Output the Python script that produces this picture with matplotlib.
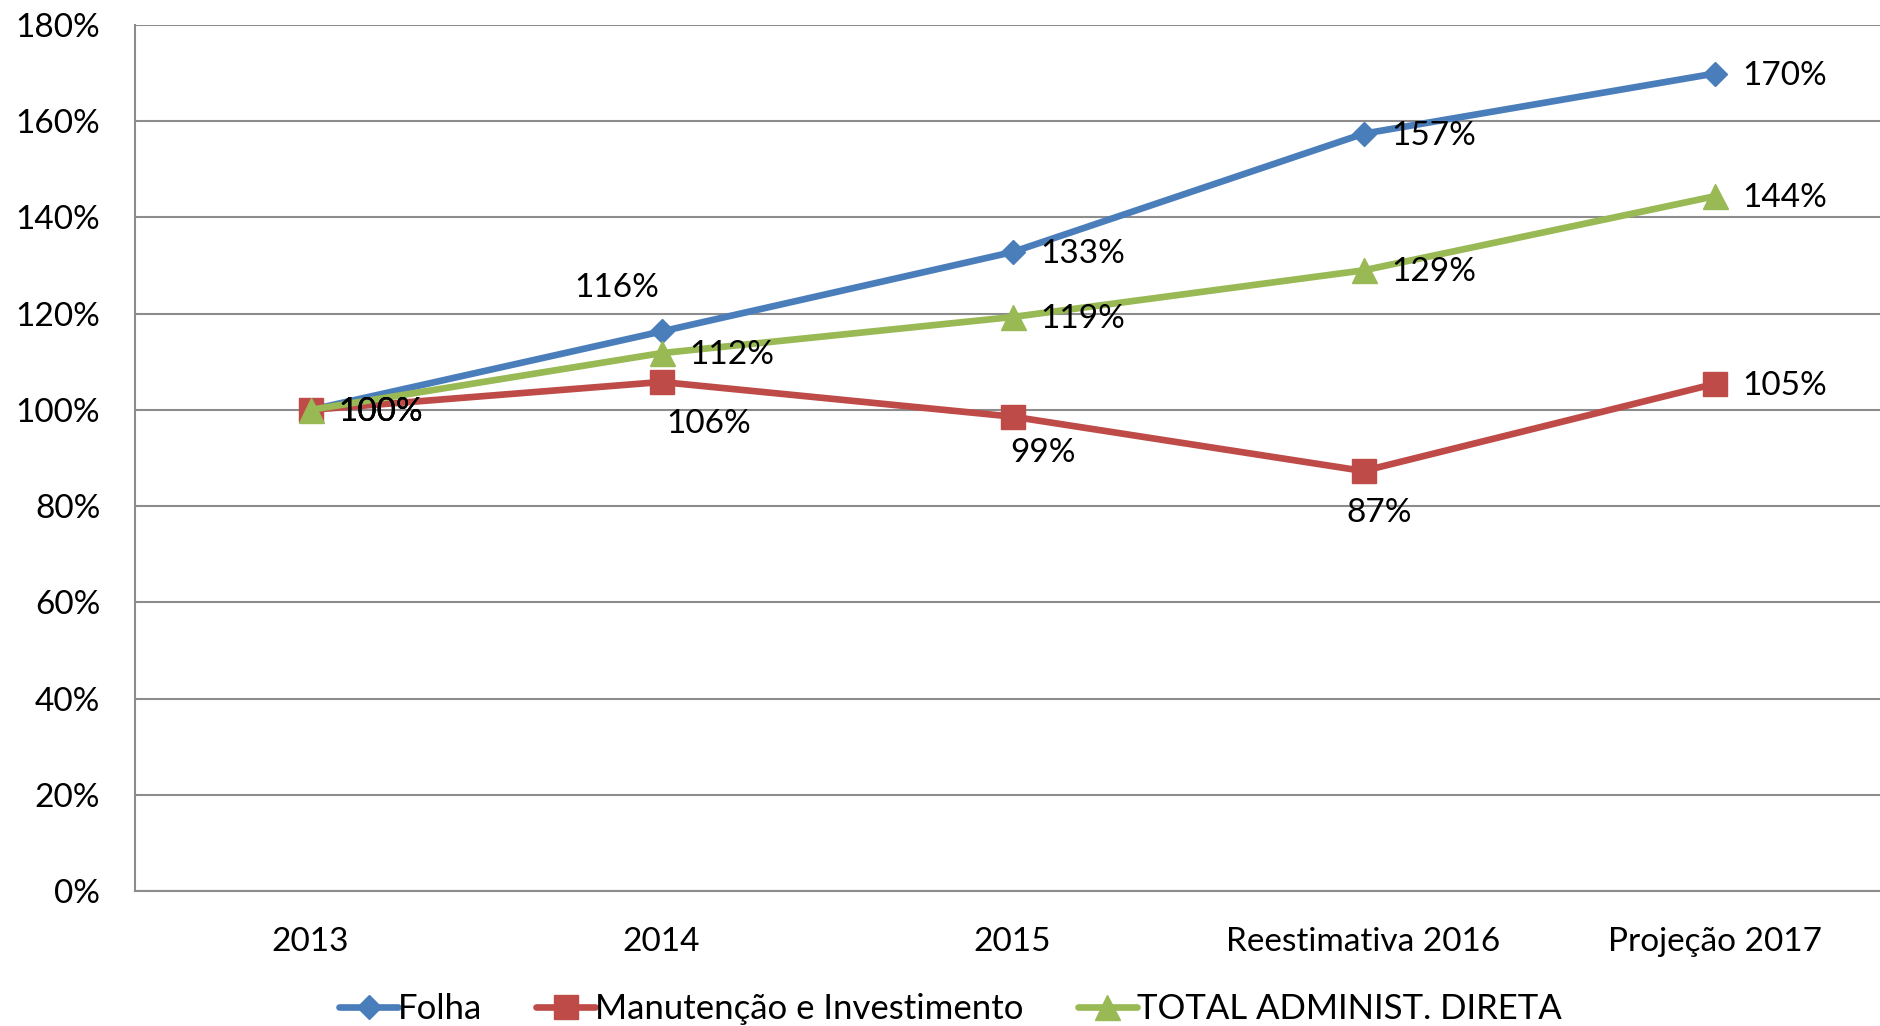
import matplotlib
matplotlib.use("Agg")
import matplotlib.pyplot as plt
from matplotlib.ticker import FuncFormatter

categories = ["2013", "2014", "2015", "Reestimativa 2016", "Projeção 2017"]
folha = [100, 116.3, 132.8, 157.4, 169.9]
manutencao = [100, 105.8, 98.6, 87.3, 105.4]
total = [100, 111.8, 119.3, 129.0, 144.4]
series_names = ["Folha", "Manutenção e Investimento", "TOTAL ADMINIST. DIRETA"]
folha_labels = ["100%", "116%", "133%", "157%", "170%"]
manut_labels = ["100%", "106%", "99%", "87%", "105%"]
total_labels = ["100%", "112%", "119%", "129%", "144%"]
yticks = [0, 20, 40, 60, 80, 100, 120, 140, 160, 180]

plt.rcParams['font.family'] = ['Lato', 'DejaVu Sans']
FS = 24

fig = plt.figure(figsize=(18.8, 10.26), dpi=100)
ax = fig.add_axes([135/1880, 1 - 891/1026, (1890 - 135)/1880, (891 - 25)/1026])

x = list(range(len(categories)))
blue, red, green = "#4A7EBB", "#BE4B48", "#98B954"

ax.plot(x, folha, color=blue, lw=4.8, marker="D", ms=12.5, mec=blue, mfc=blue,
        label=series_names[0], zorder=3, solid_capstyle="round")
ax.plot(x, manutencao, color=red, lw=4.8, marker="s", ms=17, mec=red, mfc=red,
        label=series_names[1], zorder=3, solid_capstyle="round")
ax.plot(x, total, color=green, lw=4.8, marker="^", ms=18, mec=green, mfc=green,
        label=series_names[2], zorder=4, solid_capstyle="round")

ax.set_xlim(-0.5, 4.5)
ax.set_ylim(0, 180)
ax.set_yticks(yticks)
ax.yaxis.set_major_formatter(FuncFormatter(lambda v, p: f"{int(v)}%"))
ax.set_xticks(x)
ax.set_xticklabels(categories)
ax.tick_params(axis="both", length=0, labelsize=FS)
ax.tick_params(axis="y", pad=25)
ax.tick_params(axis="x", pad=26)
ax.grid(axis="y", color="#8C8C8C", lw=1.5, zorder=0)
ax.set_axisbelow(True)
for s in ["top", "right"]:
    ax.spines[s].set_visible(False)
for s in ["left", "bottom"]:
    ax.spines[s].set_color("#8C8C8C")
    ax.spines[s].set_linewidth(1.5)

def lab(xi, yi, txt, dx, dy, ha="left"):
    ax.annotate(txt, (xi, yi), xytext=(dx, dy), textcoords="offset pixels",
                ha=ha, va="center", fontsize=FS, zorder=6)

# Folha labels
lab(0, folha[0], folha_labels[0], 28, -2)
lab(1, folha[1], folha_labels[1], -45, 43, ha="center")
for i in (2, 3, 4):
    lab(i, folha[i], folha_labels[i], 28, -2)
# Manutenção labels
lab(0, manutencao[0], manut_labels[0], 28, -2)
lab(1, manutencao[1], manut_labels[1], 47, -42, ha="center")
lab(2, manutencao[2], manut_labels[2], 31, -36, ha="center")
lab(3, manutencao[3], manut_labels[3], 16, -42, ha="center")
lab(4, manutencao[4], manut_labels[4], 28, -2)
# Total labels
lab(0, total[0], total_labels[0], 28, -2)
for i in (1, 2, 3, 4):
    lab(i, total[i], total_labels[i], 28, -2)

fig.legend(loc="center", bbox_to_anchor=(0.5055, 1 - 1009/1026), ncol=3, frameon=False,
           fontsize=25, handlelength=1.7, handletextpad=0.0, columnspacing=1.55,
           borderaxespad=0)

fig.savefig("out.png", dpi=100)
